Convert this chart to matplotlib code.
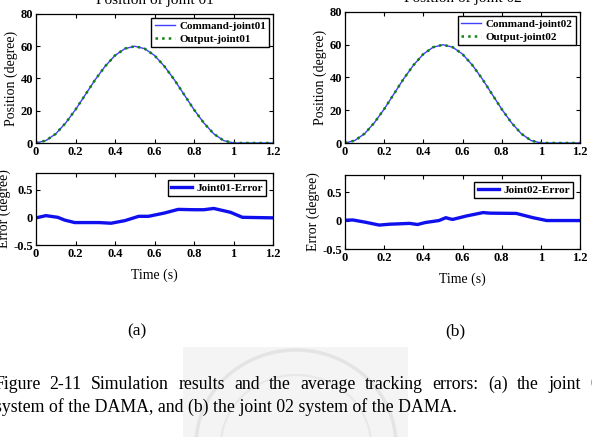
import matplotlib
matplotlib.use("Agg")
import matplotlib.pyplot as plt
from matplotlib.patches import Rectangle, Ellipse

plt.rcParams['font.family'] = 'Liberation Serif'
plt.rcParams['font.weight'] = 'bold'

# time grid for the position curves (read every 0.05 s)
t_pos = [0, 0.05, 0.1, 0.15, 0.2, 0.25, 0.3, 0.35, 0.4, 0.45, 0.5,
         0.55, 0.6, 0.65, 0.7, 0.75, 0.8, 0.85, 0.9, 0.95, 1.0,
         1.05, 1.1, 1.15, 1.2]
cmd_pos = [0, 1.5, 5.7, 12.4, 20.7, 30, 39.3, 47.6, 54.3, 58.5, 60,
           58.5, 54.3, 47.6, 39.3, 30, 20.7, 12.4, 5.7, 1.5, 0,
           0, 0, 0, 0]
out_pos = cmd_pos

# tracking errors
t_err1 = [0, 0.05, 0.11, 0.145, 0.196, 0.32, 0.38, 0.45, 0.52, 0.57, 0.65,
          0.72, 0.80, 0.85, 0.90, 0.985, 1.045, 1.2]
err1 = [-0.01, 0.03, 0.0, -0.05, -0.095, -0.095, -0.107, -0.06, 0.018, 0.018,
        0.077, 0.143, 0.137, 0.137, 0.16, 0.09, 0.0, -0.01]
t_err2 = [0, 0.04, 0.105, 0.175, 0.225, 0.33, 0.37, 0.41, 0.48, 0.515, 0.535,
          0.55, 0.62, 0.705, 0.74, 0.875, 0.96, 1.03, 1.2]
err2 = [0.005, 0.01, -0.03, -0.08, -0.065, -0.05, -0.07, -0.035, 0.0, 0.05,
        0.03, 0.02, 0.08, 0.14, 0.13, 0.125, 0.05, 0.0, 0.0]

caption1 = 'Figure 2-11 Simulation results and the average tracking errors: (a) the joint 01'
caption2 = 'system of the DAMA, and (b) the joint 02 system of the DAMA.'

W, H = 592, 437
fig = plt.figure(figsize=(W / 100, H / 100), dpi=100)


def box(l, r, t, b):
    return [l / W, (H - b) / H, (r - l) / W, (b - t) / H]


def style(ax, yt):
    ax.set_xlim(0, 1.2)
    ax.set_xticks([0, 0.2, 0.4, 0.6, 0.8, 1, 1.2])
    ax.set_xticklabels(['0', '0.2', '0.4', '0.6', '0.8', '1', '1.2'])
    ax.set_yticks(yt)
    ax.tick_params(direction='in', top=True, right=True, labelsize=9,
                   length=3, pad=2)
    for s in ax.spines.values():
        s.set_linewidth(0.9)


panels = [
    ('01', box(36, 273, 14, 143), box(36, 273, 173, 245), t_err1, err1),
    ('02', box(345, 580, 12, 143), box(345, 580, 175, 249), t_err2, err2),
]

for jn, pbox, ebox, te, ev in panels:
    ax = fig.add_axes(pbox)
    ax.plot(t_pos, cmd_pos, color='#4040ff', lw=1, label='Command-joint' + jn)
    ax.plot(t_pos, out_pos, color='#108010', lw=1.8, ls=':', label='Output-joint' + jn)
    ax.set_ylim(0, 80)
    style(ax, [0, 20, 40, 60, 80])
    ax.legend(loc='upper right', fontsize=8, fancybox=False, edgecolor='black',
              framealpha=1, borderaxespad=0.35, handlelength=1.8,
              borderpad=0.3, labelspacing=0.25, handletextpad=0.4)
    ax.set_ylabel('Position (degree)', fontsize=10, labelpad=2)
    ax.set_title('Position of joint ' + jn, fontsize=11, pad=7)

    ax2 = fig.add_axes(ebox)
    ax2.plot(te, ev, color='#1010ee', lw=2.4, label='Joint' + jn + '-Error')
    ax2.set_ylim(-0.5, 0.8)
    style(ax2, [-0.5, 0, 0.5])
    ax2.set_yticklabels(['-0.5', '0', '0.5'])
    ax2.legend(loc='upper right', fontsize=8, fancybox=False, edgecolor='black',
               framealpha=1, borderaxespad=0.6, handlelength=1.9,
               borderpad=0.3, handletextpad=0.4)
    ax2.set_ylabel('Error (degree)', fontsize=10, labelpad=2)
    ax2.set_xlabel('Time (s)', fontsize=10, labelpad=6)

# faint watermark
fig.patches.append(Rectangle((183 / W, 0), 225 / W, 90 / H, transform=fig.transFigure,
                             facecolor='#f4f4f4', edgecolor='none', zorder=0))
fig.patches.append(Ellipse((296 / W, 1 - 445 / H), 200 / W, 190 / H,
                           transform=fig.transFigure, facecolor='none',
                           edgecolor='#e4e4e4', lw=2.5, zorder=0))
fig.patches.append(Ellipse((296 / W, 1 - 445 / H), 150 / W, 140 / H,
                           transform=fig.transFigure, facecolor='none',
                           edgecolor='#e8e8e8', lw=1.5, zorder=0))

fig.text(137 / W, 1 - 331 / H, '(a)', fontsize=12.5, weight='normal', ha='center', va='center')
fig.text(455 / W, 1 - 331 / H, '(b)', fontsize=12.5, weight='normal', ha='center', va='center')

# first caption line is justified: spread the words between two edges
words = caption1.split()
texts = [fig.text(0, 1 - 389 / H, w, fontsize=12.8, weight='normal', ha='left', va='baseline')
         for w in words]
r = fig.canvas.get_renderer()
widths = [t.get_window_extent(r).width for t in texts]
left, right = -6, 608
gap = (right - left - sum(widths)) / (len(words) - 1)
x = left
for t, w in zip(texts, widths):
    t.set_x(x / W)
    x += w + gap
fig.text(-5 / W, 1 - 412 / H, caption2, fontsize=12.8, weight='normal', ha='left', va='baseline')

fig.savefig('out.png', dpi=100)
